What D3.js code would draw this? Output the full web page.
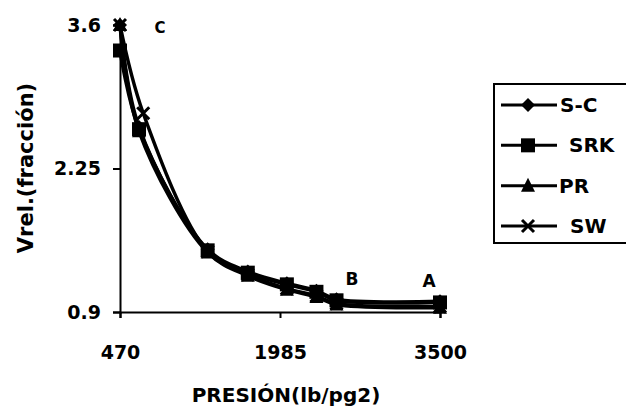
<!DOCTYPE html>
<html>
<head>
<meta charset="utf-8">
<script src="https://cdn.jsdelivr.net/npm/d3@7"></script>
<style>
  body { margin: 0; background: #fff; }
  text { font-family: "DejaVu Sans", sans-serif; font-weight: bold; fill: #000; }
</style>
</head>
<body>
<script>
// data
const pressure   = [470, 650, 1300, 1680, 2050, 2330, 2520, 3500];
const pressureSW = [470, 690, 1300, 1680, 2050, 2330, 2520, 3500];
const sc  = [3.60, 2.64, 1.49, 1.28, 1.17, 1.10, 1.02, 1.00];
const srk = [3.36, 2.62, 1.48, 1.27, 1.16, 1.09, 1.01, 0.99];
const pr  = [3.60, 2.60, 1.46, 1.24, 1.11, 1.04, 0.97, 0.94];
const sw  = [3.60, 2.77, 1.47, 1.25, 1.12, 1.05, 0.98, 0.95];

const xTicks = [470, 1985, 3500];
const yTicks = [0.9, 2.25, 3.6];
const seriesNames = ["S-C", "SRK", "PR", "SW"];
const pointLabels = ["C", "B", "A"];
const labelPressure = [849, 2667, 3396];
const labelValue = [3.57, 1.21, 1.19];

const W = 626, H = 410;
const svg = d3.select("body").append("svg").attr("width", W).attr("height", H);

const x = d3.scaleLinear().domain([470, 3500]).range([120, 440]);
const y = d3.scaleLinear().domain([0.9, 3.6]).range([312, 25]);

// axes
const xAxis = svg.append("g").attr("transform", "translate(0,312)")
  .call(d3.axisBottom(x).tickValues(xTicks).tickSize(6).tickFormat(d3.format("d")));
const yAxis = svg.append("g").attr("transform", "translate(120,0)")
  .call(d3.axisLeft(y).tickValues(yTicks).tickSize(7).tickPadding(12).tickFormat(d => d));
[xAxis, yAxis].forEach(a => {
  a.select(".domain").attr("stroke", "#000").attr("stroke-width", 2);
  a.selectAll(".tick line").attr("stroke", "#000").attr("stroke-width", 2);
  a.selectAll(".tick text").style("font-size", "19px").style("font-family", "DejaVu Sans").style("font-weight", "bold");
});
xAxis.selectAll(".tick text").attr("dy", "0.71em").attr("y", 34);

// axis titles
svg.append("text").attr("x", 286).attr("y", 402).attr("text-anchor", "middle")
  .style("font-size", "20px").text("PRESIÓN(lb/pg2)");
svg.append("text").attr("transform", "translate(33,168) rotate(-90)").attr("text-anchor", "middle")
  .style("font-size", "21px").text("Vrel.(fracción)");

// series
const series = [
  { name: seriesNames[0], xs: pressure,   ys: sc,  shape: "diamond" },
  { name: seriesNames[1], xs: pressure,   ys: srk, shape: "square" },
  { name: seriesNames[2], xs: pressure,   ys: pr,  shape: "triangle" },
  { name: seriesNames[3], xs: pressureSW, ys: sw,  shape: "cross" }
];

const line = d3.line().x(d => x(d[0])).y(d => y(d[1])).curve(d3.curveCatmullRom.alpha(0.5));

series.forEach(s => {
  svg.append("path")
    .datum(s.xs.map((p, i) => [p, s.ys[i]]))
    .attr("d", line)
    .attr("fill", "none").attr("stroke", "#000").attr("stroke-width", 3.5);
});

function marker(g, shape) {
  if (shape === "diamond") {
    g.append("path").attr("d", "M0,-7L7,0L0,7L-7,0Z").attr("fill", "#000");
  } else if (shape === "square") {
    g.append("rect").attr("x", -7).attr("y", -7).attr("width", 14).attr("height", 14).attr("fill", "#000");
  } else if (shape === "triangle") {
    g.append("path").attr("d", "M0,-8L7,6L-7,6Z").attr("fill", "#000");
  } else {
    g.append("path").attr("d", "M-6,-6L6,6M6,-6L-6,6").attr("stroke", "#000").attr("stroke-width", 3);
  }
}

// draw order: diamonds, triangles, crosses, then squares on top
[0, 2, 3, 1].forEach(k => {
  const s = series[k];
  s.xs.forEach((p, i) => {
    const g = svg.append("g").attr("transform", `translate(${x(p)},${y(s.ys[i])})`);
    marker(g, s.shape);
  });
});

// point labels
pointLabels.forEach((t, i) => {
  svg.append("text").attr("x", x(labelPressure[i])).attr("y", y(labelValue[i]))
    .attr("text-anchor", "middle").attr("dominant-baseline", "central")
    .style("font-size", i === 0 ? "15px" : "17px").text(t);
});

// legend
const lg = svg.append("g");
lg.append("rect").attr("x", 494).attr("y", 84).attr("width", 150).attr("height", 159)
  .attr("fill", "#fff").attr("stroke", "#000").attr("stroke-width", 2);
const legendY = d3.scalePoint().domain(seriesNames).range([105, 226]);
const textX = [560, 569, 559, 570];
series.forEach((s, i) => {
  const yy = legendY(s.name);
  lg.append("line").attr("x1", 501).attr("x2", 557).attr("y1", yy).attr("y2", yy)
    .attr("stroke", "#000").attr("stroke-width", 3);
  marker(lg.append("g").attr("transform", `translate(528,${yy})`), s.shape);
  lg.append("text").attr("x", textX[i]).attr("y", yy).attr("dominant-baseline", "central")
    .style("font-size", "20px").text(s.name);
});
</script>
</body>
</html>
